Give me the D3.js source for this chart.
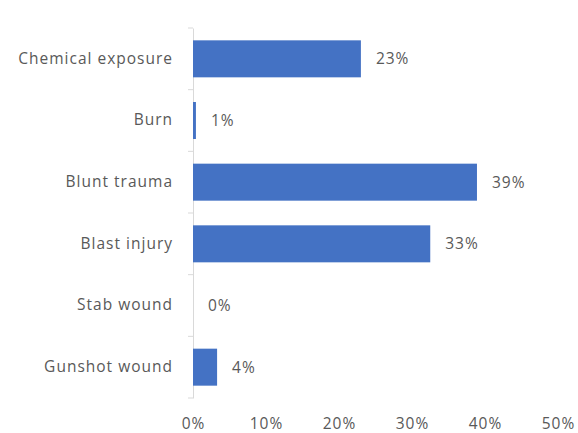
<!DOCTYPE html>
<html>
<head>
<meta charset="utf-8">
<script src="https://cdn.jsdelivr.net/npm/d3@7"></script>
<style>
  body { margin: 0; background: #fff; }
  text { font-family: "Open Sans", sans-serif; fill: #595959; }
</style>
</head>
<body>
<div id="chart"></div>
<script>
// Data
var categories = ["Chemical exposure", "Burn", "Blunt trauma", "Blast injury", "Stab wound", "Gunshot wound"];
var values = [23, 0.4, 38.9, 32.5, 0, 3.3];
var valueLabels = ["23%", "1%", "39%", "33%", "0%", "4%"];
var tickValues = [0, 10, 20, 30, 40, 50];

var width = 578;
var height = 433;
var fontSize = "15.5px";
var letterSpacing = "1px";

var svg = d3.select("#chart").append("svg")
  .attr("width", width)
  .attr("height", height);

var xScale = d3.scaleLinear()
  .domain([0, 50])
  .range([193, 558]);

var yScale = d3.scaleBand()
  .domain(categories)
  .range([28, 398])
  .paddingInner(0.4)
  .paddingOuter(0.2);

/* Axis line + category labels */
var yAxisGroup = svg.append("g")
  .attr("transform", "translate(193, 0)")
  .call(d3.axisLeft(yScale).tickSize(0).tickPadding(20).tickSizeOuter(0));

yAxisGroup.select(".domain").attr("stroke", "#d9d9d9");
yAxisGroup.selectAll("text")
  .attr("font-size", fontSize)
  .style("font-family", "Open Sans, sans-serif")
  .style("letter-spacing", letterSpacing)
  .attr("fill", "#595959");

// small ticks between categories
var step = yScale.step();
var boundaries = d3.range(categories.length + 1).map(i => 28 + i * step);
svg.append("g").selectAll("line")
  .data(boundaries)
  .enter().append("line")
  .attr("x1", 188)
  .attr("x2", 193)
  .attr("y1", d => d)
  .attr("y2", d => d)
  .attr("stroke", "#d9d9d9");

/* X axis labels only */
var xAxisGroup = svg.append("g")
  .attr("transform", "translate(0, 412)")
  .call(d3.axisBottom(xScale).tickValues(tickValues).tickSize(0).tickPadding(6).tickFormat(d => d + "%"));
xAxisGroup.select(".domain").remove();
xAxisGroup.selectAll("text")
  .attr("font-size", fontSize)
  .style("font-family", "Open Sans, sans-serif")
  .style("letter-spacing", letterSpacing)
  .attr("fill", "#595959");

/* Bars */
svg.append("g").selectAll("rect")
  .data(values)
  .enter().append("rect")
  .attr("x", xScale(0))
  .attr("y", (d, i) => yScale(categories[i]))
  .attr("width", d => xScale(d) - xScale(0))
  .attr("height", yScale.bandwidth())
  .attr("fill", "#4472c4");

/* Value labels */
svg.append("g").selectAll("text")
  .data(values)
  .enter().append("text")
  .attr("x", d => xScale(d) + 15)
  .attr("y", (d, i) => yScale(categories[i]) + yScale.bandwidth() / 2)
  .attr("dy", "0.35em")
  .attr("font-size", fontSize)
  .style("letter-spacing", letterSpacing)
  .text((d, i) => valueLabels[i]);
</script>
</body>
</html>
